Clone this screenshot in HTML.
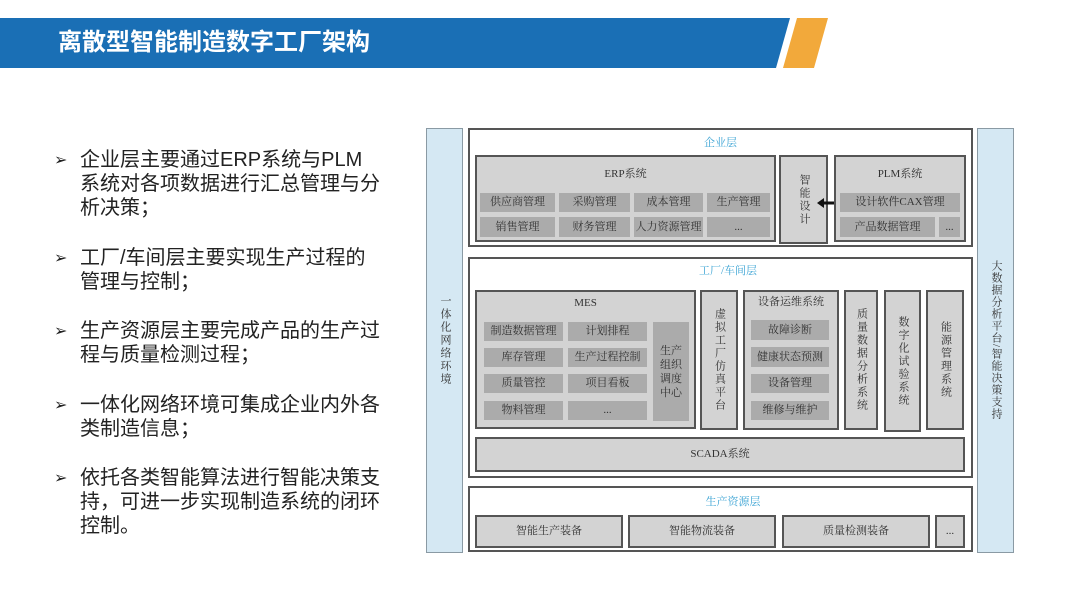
<!DOCTYPE html>
<html><head><meta charset="utf-8"><style>
*{margin:0;padding:0;box-sizing:border-box}
body{width:1080px;height:608px;background:#fff;position:relative;overflow:hidden;font-family:"Liberation Sans","Noto Sans CJK SC",sans-serif}
.a{position:absolute}
.t{position:absolute;font-size:20px;color:#222;white-space:nowrap;line-height:24px}
.d{font-family:"Liberation Serif","Noto Serif CJK SC",serif;color:#333;font-size:11px;display:flex;align-items:center;justify-content:center;text-align:center;line-height:13px}
.o{background:#fff;border:2px solid #555}
.g{background:#d3d3d3;border:2px solid #555}
.c{background:#ababab}
.lt{color:#3aa3d4;font-size:11px}
.v{writing-mode:vertical-rl;letter-spacing:2px}
.col{background:#d5e8f3;border:1px solid #8a9aa4}
</style></head><body>
<svg class="a" style="left:0;top:0" width="840" height="80">
<polygon points="0,18 790,18 776,68 0,68" fill="#1a6fb5"/>
<polygon points="797,18 828,18 814,68 783,68" fill="#f2a93b"/>
</svg>
<div class="a" style="left:58px;top:28px;font-size:24px;font-weight:bold;color:#fff;line-height:30px">离散型智能制造数字工厂架构</div>

<div class="t" style="left:54px;top:149px;font-size:16px">➢</div>
<div class="t" style="left:80px;top:148px">企业层主要通过ERP系统与PLM<br>系统对各项数据进行汇总管理与分<br>析决策；</div>
<div class="t" style="left:54px;top:247px;font-size:16px">➢</div>
<div class="t" style="left:80px;top:246px">工厂/车间层主要实现生产过程的<br>管理与控制；</div>
<div class="t" style="left:54px;top:320px;font-size:16px">➢</div>
<div class="t" style="left:80px;top:319px">生产资源层主要完成产品的生产过<br>程与质量检测过程；</div>
<div class="t" style="left:54px;top:394px;font-size:16px">➢</div>
<div class="t" style="left:80px;top:393px">一体化网络环境可集成企业内外各<br>类制造信息；</div>
<div class="t" style="left:54px;top:467px;font-size:16px">➢</div>
<div class="t" style="left:80px;top:466px">依托各类智能算法进行智能决策支<br>持，可进一步实现制造系统的闭环<br>控制。</div>

<!-- side columns -->
<div class="a col d" style="left:426px;top:128px;width:37px;height:425px"><span class="v" style="font-size:11px">一体化网络环境</span></div>
<div class="a col d" style="left:977px;top:128px;width:37px;height:425px"><span class="v" style="font-size:11px;letter-spacing:1px">大数据分析平台/智能决策支持</span></div>

<!-- enterprise -->
<div class="a o" style="left:468px;top:128px;width:505px;height:119px"></div>
<div class="a d lt" style="left:468px;top:136px;width:505px;height:14px">企业层</div>
<div class="a g d" style="left:475px;top:155px;width:301px;height:87px;align-items:flex-start;padding-top:11px">ERP系统</div>
<div class="a c d" style="left:480px;top:193px;width:75px;height:19px">供应商管理</div>
<div class="a c d" style="left:559px;top:193px;width:71px;height:19px">采购管理</div>
<div class="a c d" style="left:634px;top:193px;width:69px;height:19px">成本管理</div>
<div class="a c d" style="left:707px;top:193px;width:63px;height:19px">生产管理</div>
<div class="a c d" style="left:480px;top:217px;width:75px;height:20px">销售管理</div>
<div class="a c d" style="left:559px;top:217px;width:71px;height:20px">财务管理</div>
<div class="a c d" style="left:634px;top:217px;width:69px;height:20px">人力资源管理</div>
<div class="a c d" style="left:707px;top:217px;width:63px;height:20px">...</div>
<div class="a g d" style="left:779px;top:155px;width:49px;height:89px"><span class="v">智能设计</span></div>
<svg class="a" style="left:816px;top:196px" width="20" height="14"><line x1="6" y1="7" x2="19" y2="7" stroke="#111" stroke-width="3"/><polygon points="1,7 8,2 8,12" fill="#111"/></svg>
<div class="a g d" style="left:834px;top:155px;width:132px;height:87px;align-items:flex-start;padding-top:11px">PLM系统</div>
<div class="a c d" style="left:840px;top:193px;width:120px;height:19px">设计软件CAX管理</div>
<div class="a c d" style="left:840px;top:217px;width:95px;height:20px">产品数据管理</div>
<div class="a c d" style="left:939px;top:217px;width:21px;height:20px">...</div>

<!-- factory -->
<div class="a o" style="left:468px;top:257px;width:505px;height:221px"></div>
<div class="a d lt" style="left:468px;top:264px;width:520px;height:14px">工厂/车间层</div>
<div class="a g d" style="left:475px;top:290px;width:221px;height:139px;align-items:flex-start;padding-top:5px">MES</div>
<div class="a c d" style="left:484px;top:322px;width:79px;height:19px">制造数据管理</div>
<div class="a c d" style="left:568px;top:322px;width:79px;height:19px">计划排程</div>
<div class="a c d" style="left:484px;top:348px;width:79px;height:19px">库存管理</div>
<div class="a c d" style="left:568px;top:348px;width:79px;height:19px">生产过程控制</div>
<div class="a c d" style="left:484px;top:374px;width:79px;height:19px">质量管控</div>
<div class="a c d" style="left:568px;top:374px;width:79px;height:19px">项目看板</div>
<div class="a c d" style="left:484px;top:401px;width:79px;height:19px">物料管理</div>
<div class="a c d" style="left:568px;top:401px;width:79px;height:19px">...</div>
<div class="a c d" style="left:653px;top:322px;width:36px;height:99px;line-height:14px">生产<br>组织<br>调度<br>中心</div>
<div class="a g d" style="left:700px;top:290px;width:38px;height:140px"><span class="v">虚拟工厂仿真平台</span></div>
<div class="a g d" style="left:743px;top:290px;width:96px;height:140px;align-items:flex-start;padding-top:4px">设备运维系统</div>
<div class="a c d" style="left:751px;top:320px;width:78px;height:20px">故障诊断</div>
<div class="a c d" style="left:751px;top:347px;width:78px;height:20px">健康状态预测</div>
<div class="a c d" style="left:751px;top:374px;width:78px;height:19px">设备管理</div>
<div class="a c d" style="left:751px;top:401px;width:78px;height:19px">维修与维护</div>
<div class="a g d" style="left:844px;top:290px;width:34px;height:140px"><span class="v">质量数据分析系统</span></div>
<div class="a g d" style="left:884px;top:290px;width:37px;height:142px"><span class="v">数字化试验系统</span></div>
<div class="a g d" style="left:926px;top:290px;width:38px;height:140px"><span class="v">能源管理系统</span></div>
<div class="a g d" style="left:475px;top:437px;width:490px;height:35px">SCADA系统</div>

<!-- production -->
<div class="a o" style="left:468px;top:486px;width:505px;height:66px"></div>
<div class="a d lt" style="left:468px;top:495px;width:530px;height:14px">生产资源层</div>
<div class="a g d" style="left:475px;top:515px;width:148px;height:33px">智能生产装备</div>
<div class="a g d" style="left:628px;top:515px;width:148px;height:33px">智能物流装备</div>
<div class="a g d" style="left:782px;top:515px;width:148px;height:33px">质量检测装备</div>
<div class="a g d" style="left:935px;top:515px;width:30px;height:33px">...</div>
</body></html>
